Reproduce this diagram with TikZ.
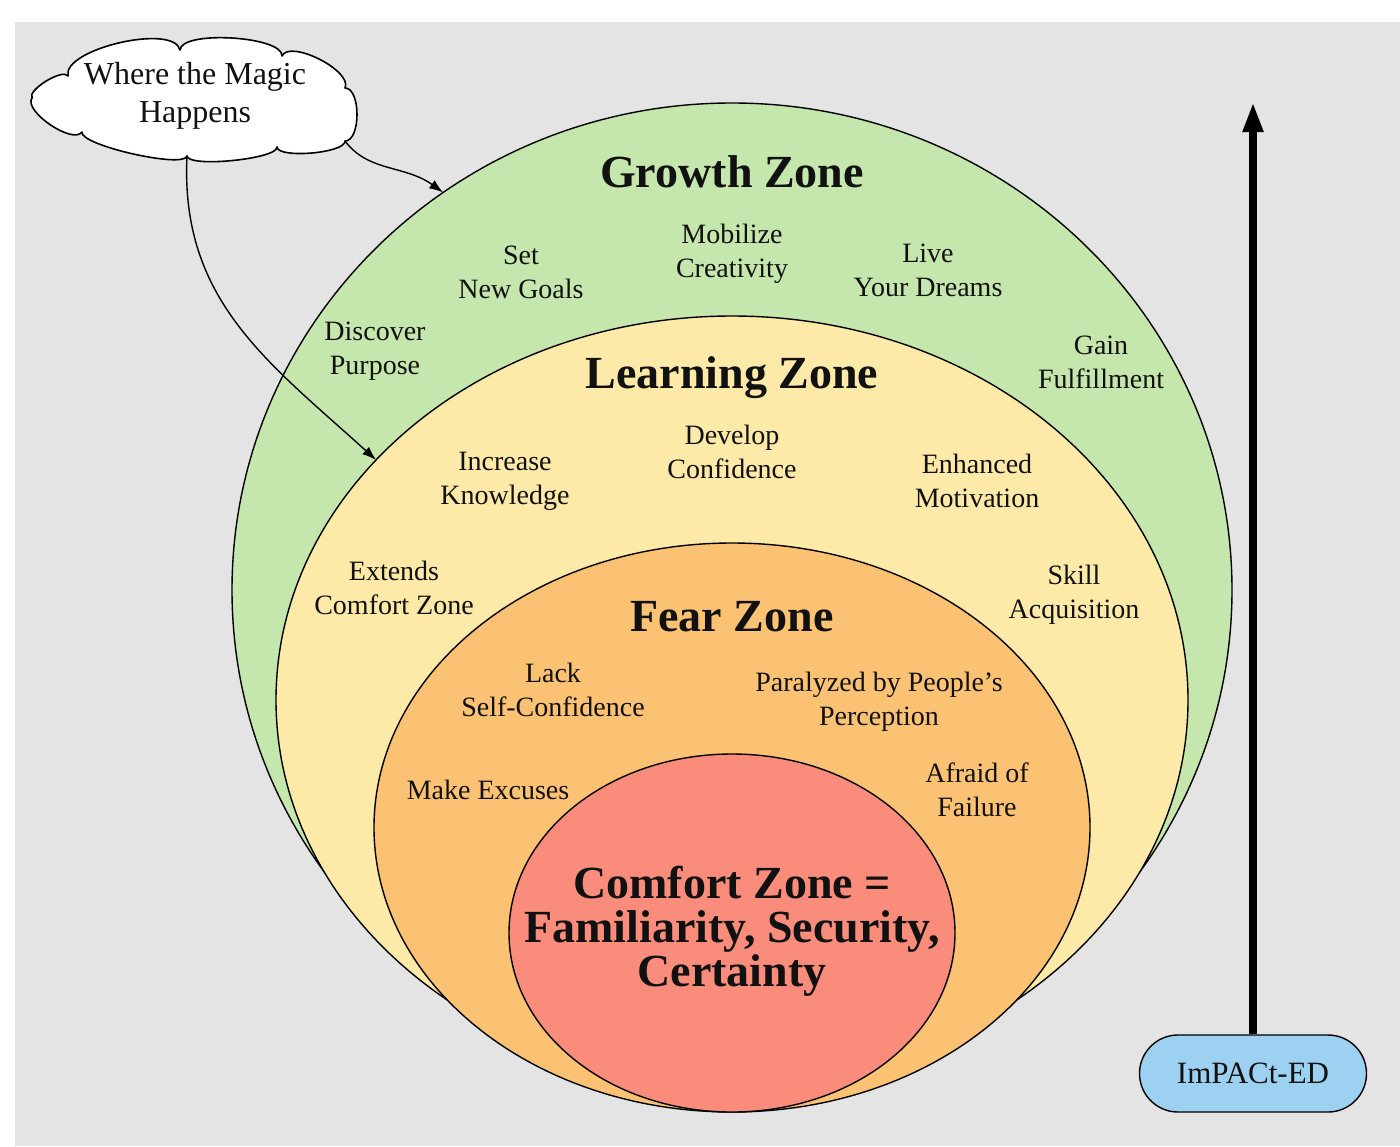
\documentclass[tikz,border=0pt]{standalone}
\usepackage{fontspec}
\setmainfont{Liberation Serif}
\usetikzlibrary{shapes.geometric,shapes.misc,arrows.meta}
\definecolor{bggray}{HTML}{E4E4E4}
\definecolor{growthgreen}{HTML}{C5E6AC}
\definecolor{learnyellow}{HTML}{FDE9A8}
\definecolor{fearorange}{HTML}{FBC274}
\definecolor{comfortred}{HTML}{FA8C7B}
\definecolor{impactblue}{HTML}{9DD1F2}
\definecolor{inkblack}{HTML}{111111}
\tikzset{
  zone/.style={ellipse, draw=black, line width=1.4pt, inner sep=0pt, outer sep=0pt},
  lbl/.style={align=center, text=inkblack, font=\fontsize{28}{34}\selectfont, inner sep=0pt},
  ttl/.style={align=center, text=inkblack, font=\bfseries\fontsize{46}{46}\selectfont, inner sep=0pt},
  conn/.style={draw=black, line width=1.4pt, -{Latex[length=14pt,width=10pt]}},
  cloudline/.style={draw=black, line width=1.6pt, fill=white, line join=round},
}
\begin{document}
\begin{tikzpicture}[x=1pt,y=-1pt]
\useasboundingbox (0,0) rectangle (1400,1146);
\fill[white] (0,0) rectangle (1400,1146);
\fill[bggray] (15,22) rectangle (1400,1146);

% zones
\node[zone, fill=growthgreen, minimum width=1000pt, minimum height=974pt] (growth) at (732,590) {};
\node[zone, fill=learnyellow, minimum width=912pt, minimum height=768pt] (learning) at (732,700) {};
\node[zone, fill=fearorange, minimum width=716pt, minimum height=569pt] (fear) at (732,827.5) {};
\node[zone, fill=comfortred, minimum width=446pt, minimum height=358pt] (comfort) at (732,933) {};

% titles
\node[ttl] (tgrowth) at (732,172) {Growth Zone};
\node[ttl] (tlearning) at (732,378) {Learning Zone};
\node[ttl] (tfear) at (732,617) {Fear Zone};
\node[ttl, font=\bfseries\fontsize{46}{44}\selectfont] (tcomfort) at (732,931) {Comfort Zone =\\Familiarity, Security,\\Certainty};

% growth labels
\node[lbl] (g1) at (521,272) {Set\\New Goals};
\node[lbl] (g2) at (732,254) {Mobilize\\Creativity};
\node[lbl] (g3) at (928,270) {Live\\Your Dreams};
\node[lbl] (g4) at (375,351) {Discover\\Purpose};
\node[lbl] (g5) at (1101,362) {Gain\\Fulfillment};

% learning labels
\node[lbl] (l1) at (505,481) {Increase\\Knowledge};
\node[lbl] (l2) at (732,452) {Develop\\Confidence};
\node[lbl] (l3) at (977,481) {Enhanced\\Motivation};
\node[lbl] (l4) at (394,588) {Extends\\Comfort Zone};
\node[lbl] (l5) at (1074,595) {Skill\\Acquisition};

% fear labels
\node[lbl] (f1) at (553,690) {Lack\\Self-Confidence};
\node[lbl] (f2) at (879,702) {Paralyzed by People's\\Perception};
\node[lbl] (f3) at (488,790) {Make Excuses};
\node[lbl] (f4) at (977,790) {Afraid of\\Failure};

% cloud outline
\coordinate (c0) at (32,98);
\coordinate (c1) at (68,76);
\coordinate (c2) at (180,50);
\coordinate (c3) at (282,56);
\coordinate (c4) at (345,88);
\coordinate (cloudR) at (345,141);
\coordinate (c6) at (277,147);
\coordinate (cloudB) at (187,156);
\coordinate (c8) at (82,132);
\path[cloudline] (c0) .. controls (27,90) and (63,68) .. (c1)
  .. controls (62,49) and (174,23) .. (c2)
  .. controls (181,30) and (283,36) .. (c3)
  .. controls (290,39) and (353,71) .. (c4)
  .. controls (361,88) and (361,141) .. (cloudR)
  .. controls (346,153) and (278,159) .. (c6)
  .. controls (278,159) and (188,168) .. (cloudB)
  .. controls (184,169) and (79,145) .. (c8)
  .. controls (73,145) and (23,111) .. cycle;
\node[align=center, text=inkblack, inner sep=0pt, font=\fontsize{32}{38}\selectfont] (cloud) at (195,96) {Where the Magic\\Happens};

% connectors from cloud
\draw[conn] (cloudR) .. controls (368,172) and (405,165) .. (growth.126.5);
\draw[conn] (cloudB) .. controls (180,300) and (268,362) .. (learning.146);

% ImPACt-ED
\node[rounded rectangle, draw=black, line width=1.4pt, fill=impactblue, minimum width=227pt, minimum height=77pt,
      inner sep=0pt, text=inkblack, font=\fontsize{31}{31}\selectfont] (impact) at (1253,1073.5) {ImPACt-ED};
\coordinate (arrowtop) at (1253,102);
\draw[line width=8pt, -{Triangle[length=30pt,width=19pt]}] (impact.north) -- (arrowtop);
\end{tikzpicture}
\end{document}
